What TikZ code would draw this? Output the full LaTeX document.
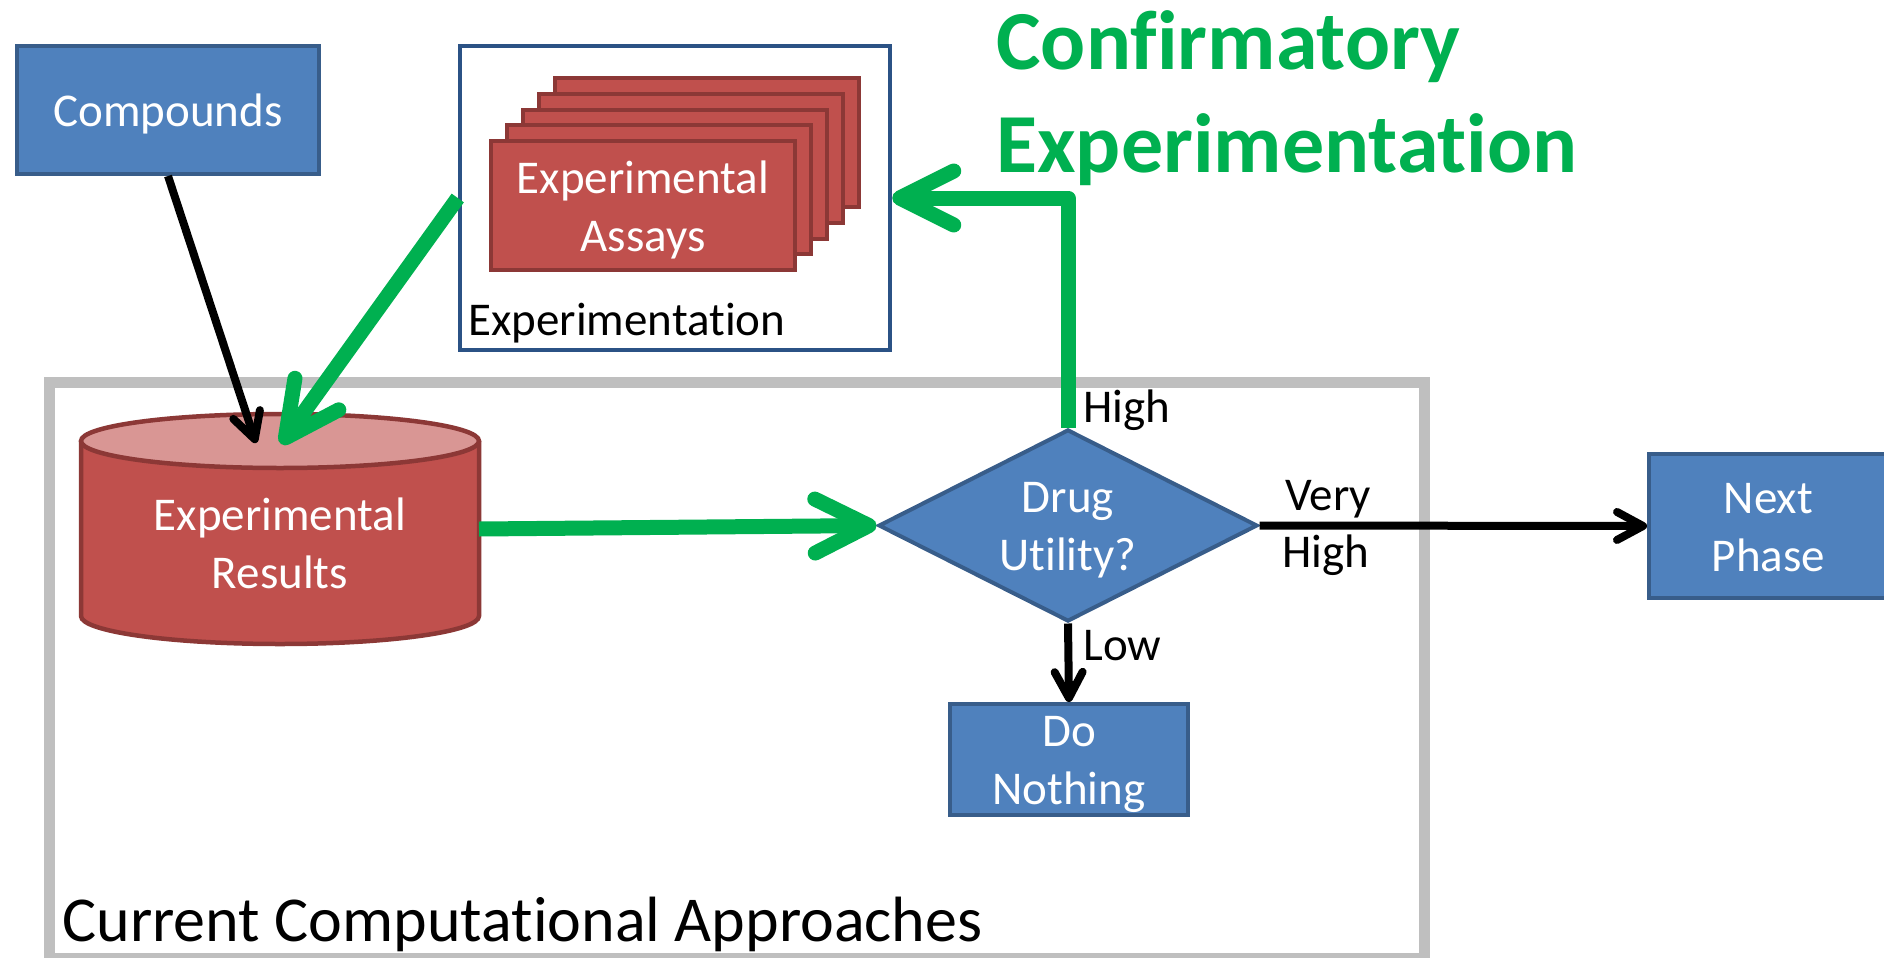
\documentclass[tikz,border=0pt]{standalone}
\usepackage{fontspec}
\setmainfont[Ligatures=NoCommon]{Carlito}
\usetikzlibrary{arrows.meta,shapes.geometric}
\definecolor{bfill}{HTML}{4F81BD}
\definecolor{bdraw}{HTML}{385D8A}
\definecolor{rfill}{HTML}{C0504D}
\definecolor{rdraw}{HTML}{8C3836}
\definecolor{rtop}{HTML}{D99694}
\definecolor{gcol}{HTML}{00B050}
\definecolor{framecol}{RGB}{43,82,133}
\definecolor{graycol}{HTML}{BFBFBF}
\newcommand{\lowr}[2]{\raisebox{-#1}[\height][\depth]{#2}}
\begin{document}
\begin{tikzpicture}[x=0.5pt,y=-0.5pt,
  txt/.style={font=\fontsize{23.5}{29}\selectfont},
  bluebox/.style={draw=bdraw, fill=bfill, line width=2pt, text=white, align=center, inner sep=0pt, txt},
  card/.style={draw=rdraw, fill=rfill, line width=2pt, minimum width=152pt, minimum height=64.5pt, inner sep=0pt},
  garrow/.style={draw=gcol, line width=7.5pt, line join=round, -{Straight Barb[length=27pt,width=27pt,round]}},
  karrow/.style={draw=black, line width=4pt, -{Straight Barb[length=13pt,width=14pt,round]}},
  lbl/.style={txt, inner sep=0pt, anchor=base west},
]
\useasboundingbox (0,0) rectangle (1884,958);
\fill[white] (0,0) rectangle (1884,958);

% container of current approaches
\node[draw=graycol, line width=5.5pt, minimum width=687.5pt, minimum height=288pt, inner sep=0pt] (capbox) at (736.5,670) {};
\node[inner sep=0pt, anchor=base west, font=\fontsize{32}{38}\selectfont] (captxt) at (62,941) {Current Computational Approaches};

% experimentation frame
\node[draw=framecol, fill=white, line width=2.25pt, minimum width=215pt, minimum height=152pt, inner sep=0pt] (expbox) at (675,198) {};
\node[lbl] (exptxt) at (468,335) {Experimentation};

% stacked assay cards
\node[card] (card4) at (707,142.5) {};
\node[card] (card3) at (691,158.25) {};
\node[card] (card2) at (675,174) {};
\node[card] (card1) at (659,189.75) {};
\node[card, text=white, align=center, txt] (assays) at (643,205.5) {\lowr{2pt}{Experimental}\\\lowr{2pt}{Assays}};

% compounds
\node[bluebox, minimum width=151pt, minimum height=64pt] (compounds) at (168,110) {\lowr{2pt}{Compounds}};

% cylinder: experimental results
\fill[rfill] (81,441) -- (81,616) arc[start angle=180,end angle=0,x radius=199,y radius=28] -- (479,441) -- cycle;
\draw[rdraw, line width=2.25pt] (81,441) -- (81,616) arc[start angle=180,end angle=0,x radius=199,y radius=28] -- (479,441);
\draw[rdraw, fill=rtop, line width=2.25pt] (280,441) ellipse[x radius=199,y radius=27];
\node[txt, text=white, align=center, inner sep=0pt] (results) at (280,543) {Experimental\\Results};
\coordinate (restopA) at (256,443);
\coordinate (restopB) at (281,444);
\coordinate (resright) at (479,529);

% decision diamond
\node[diamond, aspect=2, draw=bdraw, fill=bfill, line width=2pt, text=white, align=center, inner sep=0pt, txt, minimum width=189.5pt, minimum height=96pt] (util) at (1068,525.5) {\lowr{2.6pt}{Drug}\\\lowr{2.6pt}{Utility?}};

% outcome boxes
\node[bluebox, minimum width=119pt, minimum height=55.5pt] (nothing) at (1069,759.5) {\lowr{2.4pt}{Do}\\\lowr{2.4pt}{Nothing}};
\node[bluebox, minimum width=119.5pt, minimum height=72pt] (next) at (1768.5,526) {\lowr{0.6pt}{Next}\\\lowr{0.6pt}{Phase}};

% connectors
\draw[karrow] (compounds.south) -- (restopA);
\draw[garrow] (expbox.west) -- (restopB);
\draw[garrow] (resright) -- (util.west);
\draw[garrow] (util.north) |- (expbox.east);
\draw[karrow] (util.east) -- (next.west);
\draw[karrow] (util.south) -- (nothing.north);

% connector labels
\node[lbl] (lhigh) at (1083,422) {High};
\node[lbl] (lvery) at (1285,510) {Very};
\node[lbl] (lvhigh) at (1282,567) {High};
\node[lbl] (llow) at (1083,660) {Low};

% title
\node[inner sep=0pt, anchor=base west, text=gcol, font=\fontsize{42}{51.5}\selectfont\bfseries] (title1) at (996,69) {Confirmatory};
\node[inner sep=0pt, anchor=base west, text=gcol, font=\fontsize{42}{51.5}\selectfont\bfseries] (title2) at (996,172) {Experimentation};
\end{tikzpicture}
\end{document}
